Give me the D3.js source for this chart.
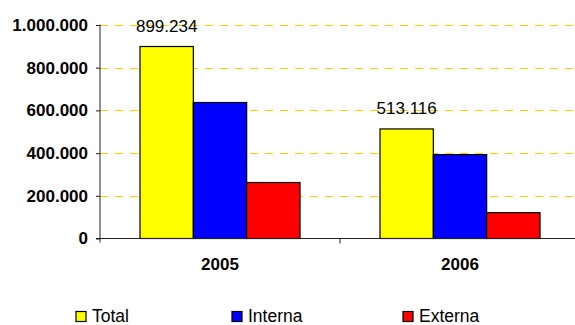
<!DOCTYPE html>
<html>
<head>
<meta charset="utf-8">
<script src="https://cdn.jsdelivr.net/npm/d3@7"></script>
<style>
  body { margin: 0; background: #fff; }
  svg text { font-family: "Liberation Sans", Arial, sans-serif; }
</style>
</head>
<body>
<svg id="chart" width="575" height="325"></svg>
<script>
var years = ["2005", "2006"];
var series = ["Total", "Interna", "Externa"];
var total = [899234, 513116];
var interna = [637000, 393000];
var externa = [262234, 121000];
var colors = ["#ffff00", "#0000ff", "#ff0000"];
var yTicks = [0, 200000, 400000, 600000, 800000, 1000000];
var labels = ["899.234", "513.116"];

var svg = d3.select("#chart");
var plotL = 100, plotR = 580, plotT = 25, plotB = 238.5;

var x = d3.scaleBand().domain(years).range([plotL, plotR]);
var xIn = d3.scaleBand().domain(series)
  .range([0, x.bandwidth()]).paddingOuter(0.75).paddingInner(0);
var y = d3.scaleLinear().domain([0, 1000000]).range([plotB, plotT]);

var fmt = function(v){ return d3.format(",")(v).replace(/,/g, "."); };

// grid lines
svg.append("g").selectAll("line").data(yTicks.slice(1)).enter()
  .append("line")
  .attr("x1", plotL).attr("x2", plotR)
  .attr("y1", function(d){ return Math.round(y(d)) + 0.5; })
  .attr("y2", function(d){ return Math.round(y(d)) + 0.5; })
  .style("stroke", "#ffcc00")
  .style("stroke-dasharray", "8,7");

// bars
var rows = years.map(function(yr, i){
  return { year: yr, values: [total[i], interna[i], externa[i]] };
});
var groups = svg.selectAll("g.grp").data(rows).enter()
  .append("g").attr("class", "grp")
  .attr("transform", function(d){ return "translate(" + x(d.year) + ",0)"; });
groups.selectAll("rect")
  .data(function(d){ return d.values.map(function(v, j){ return { s: series[j], v: v, c: colors[j] }; }); })
  .enter().append("rect")
  .attr("x", function(d){ return xIn(d.s); })
  .attr("y", function(d){ return y(d.v); })
  .attr("width", xIn.bandwidth())
  .attr("height", function(d){ return y(0) - y(d.v); })
  .style("fill", function(d){ return d.c; })
  .style("stroke", "#000")
  .style("stroke-width", 1.2);

// value labels on Total
groups.append("text")
  .attr("x", xIn("Total") + xIn.bandwidth() / 2)
  .attr("y", function(d, i){ return y(total[i]) - 15; })
  .attr("text-anchor", "middle")
  .style("font-size", "17px")
  .text(function(d, i){ return labels[i]; });

// y axis
var yAxis = d3.axisLeft(y).tickValues(yTicks).tickSize(4).tickFormat(fmt);
var gy = svg.append("g").attr("transform", "translate(" + plotL + ",0)").call(yAxis);
gy.select(".domain").attr("d", "M0," + (plotT - 0.5) + "V" + (plotB + 4)).style("stroke", "#222");
gy.selectAll(".tick line").style("stroke", "#222");
gy.selectAll(".tick text")
  .attr("x", -12)
  .style("font-size", "17px")
  .style("font-weight", "bold")
  .style("fill", "#000");

// x axis
var xAxis = d3.axisBottom(x).tickSize(0).tickPadding(19);
var gx = svg.append("g").attr("transform", "translate(0," + plotB + ")").call(xAxis);
gx.select(".domain").attr("d", "M" + (plotL - 4) + ",0H" + plotR).style("stroke", "#222");
gx.selectAll(".tick text")
  .style("font-size", "17px")
  .style("font-weight", "bold")
  .style("fill", "#000");
gx.append("line")
  .attr("x1", x("2006")).attr("x2", x("2006"))
  .attr("y1", 0).attr("y2", 5)
  .style("stroke", "#222");

// legend
var legX = [76, 232, 403];
var leg = svg.append("g").selectAll("g").data(series).enter()
  .append("g")
  .attr("transform", function(d, i){ return "translate(" + legX[i] + ",311.5)"; });
leg.append("rect")
  .attr("width", 10).attr("height", 10)
  .style("fill", function(d, i){ return colors[i]; })
  .style("stroke", "#000")
  .style("stroke-width", 1.2);
leg.append("text")
  .attr("x", 16).attr("y", 10.5)
  .style("font-size", "17.5px")
  .text(function(d){ return d; });
</script>
</body>
</html>
